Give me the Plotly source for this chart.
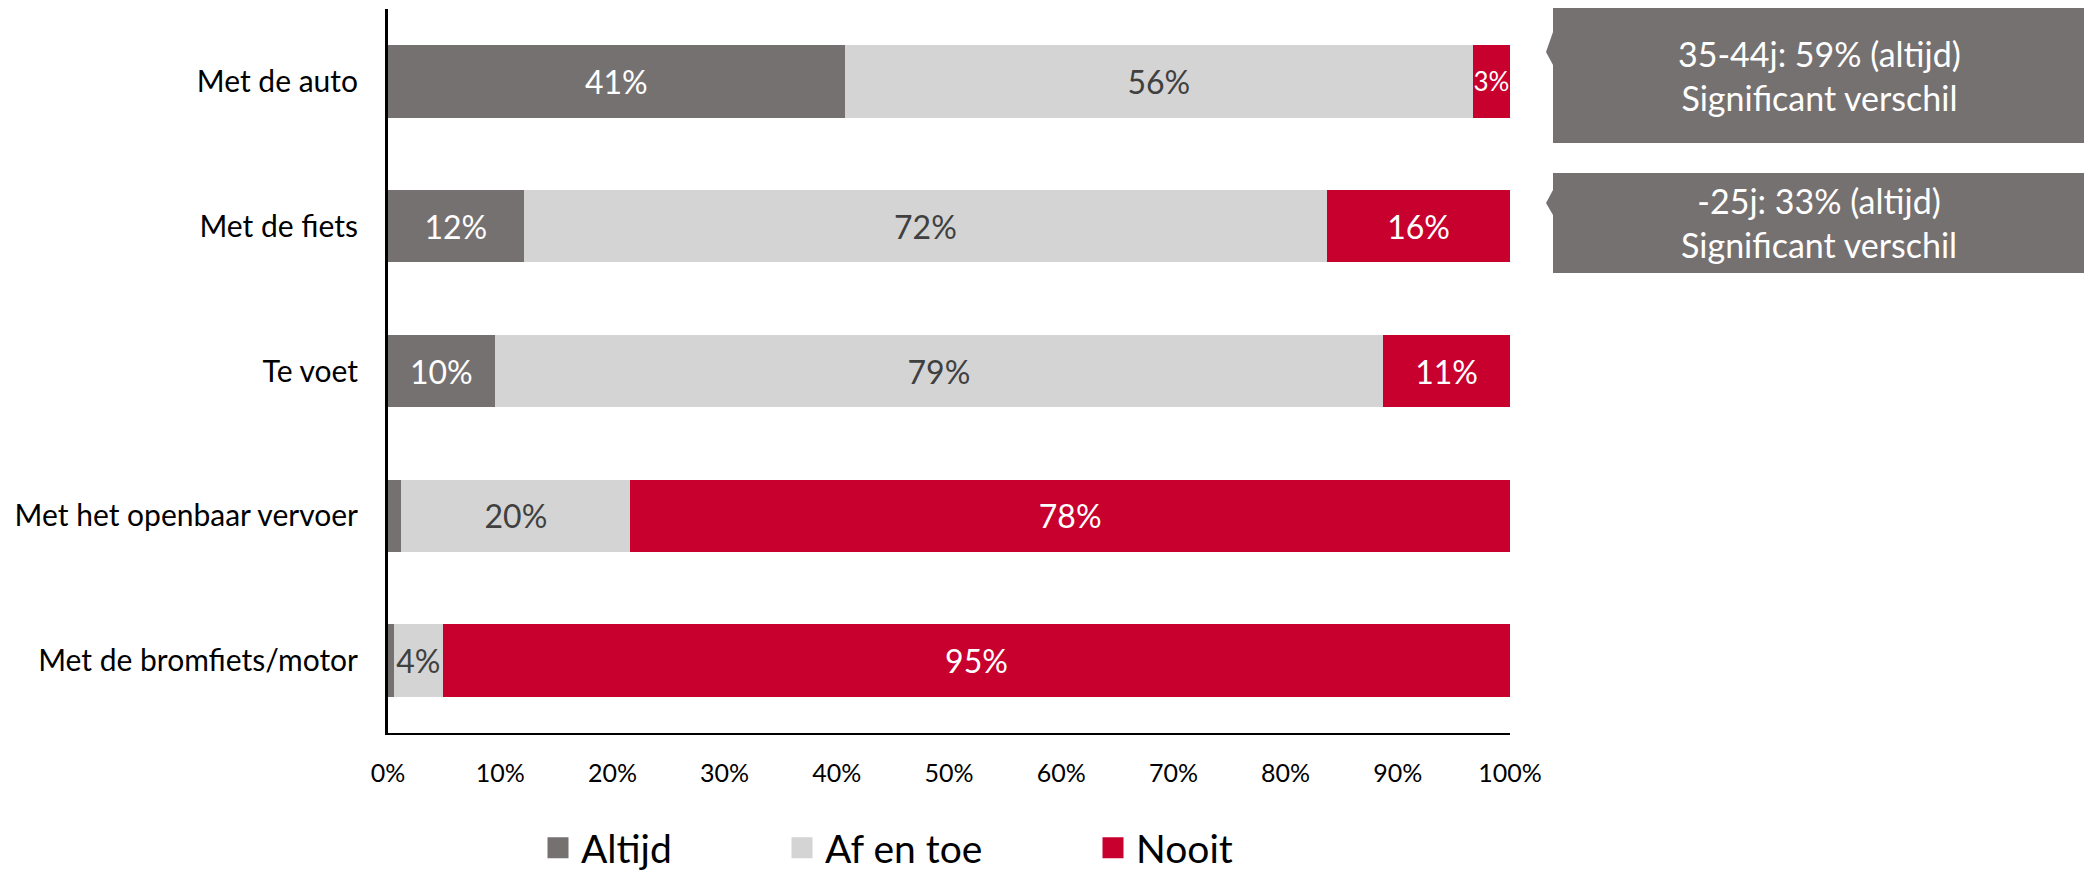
import plotly.graph_objects as go

categories = ["Met de auto", "Met de fiets", "Te voet", "Met het openbaar vervoer", "Met de bromfiets/motor"]
series_names = ["Altijd", "Af en toe", "Nooit"]
altijd = [40.7, 12.1, 9.5, 1.2, 0.5]
af_en_toe = [56.0, 71.6, 79.2, 20.4, 4.4]
nooit = [3.3, 16.3, 11.3, 78.4, 95.1]
x_ticks = [0, 10, 20, 30, 40, 50, 60, 70, 80, 90, 100]
callouts = ["35-44j: 59% (altijd)<br>Significant verschil", "-25j: 33% (altijd)<br>Significant verschil"]

colors = ["#767171", "#D4D4D4", "#C8002E"]
text_colors = ["#FFFFFF", "#404040", "#FFFFFF"]
FONT = "Lato"

OFF = 8  # page body margin
W, H = 2092 - OFF, 871 - OFF
# plot area in page pixels
L, R, T, B = 388, 1510, 9, 733


def px(xp):
    return (xp - L) / (R - L)


def py(yp):
    return (B - yp) / (B - T)


fig = go.Figure()
for name, vals, c, tc in zip(series_names, [altijd, af_en_toe, nooit], colors, text_colors):
    labels = [f"{round(v)}%" if v >= 2.5 else "" for v in vals]
    sizes = [26 if v < 4 else 32 for v in vals]
    fig.add_trace(go.Bar(
        name=name, y=categories, x=vals, orientation="h",
        marker=dict(color=c, line=dict(width=0)),
        text=labels, textposition="inside", insidetextanchor="middle", textangle=0,
        constraintext="none",
        textfont=dict(family=FONT, size=sizes, color=tc),
        hoverinfo="skip", showlegend=False,
    ))

# legend entries (one legend per series, positioned like the reference)
legend_squares = [548, 792, 1103]
legend_ids = ["legend", "legend2", "legend3"]
for name, c, lid in zip(series_names, colors, legend_ids):
    fig.add_trace(go.Scatter(
        name=name, x=[None], y=[None], mode="markers",
        marker=dict(symbol="square", size=16, color=c, line=dict(color=c, width=5)),
        legend=lid, showlegend=True, hoverinfo="skip",
    ))

legend_layout = {}
for lid, sq in zip(legend_ids, legend_squares):
    legend_layout[lid] = dict(
        orientation="h", x=px(sq - 13), xanchor="left", y=py(848), yanchor="middle",
        font=dict(family=FONT, size=39, color="#000000"), itemwidth=36,
        bgcolor="rgba(0,0,0,0)", borderwidth=0,
    )

shapes = []
annotations = []
boxes = [
    (1553, 2085, 7, 143, 32, 65, 52),
    (1553, 2085, 173, 273, 190, 215, 203),
]
for (x0, x1, y0, y1, ny0, ny1, nyt), txt in zip(boxes, callouts):
    path = (f"M {px(x0)},{py(y0)} L {px(x1)},{py(y0)} L {px(x1)},{py(y1)} L {px(x0)},{py(y1)} "
            f"L {px(x0)},{py(ny1)} L {px(1546)},{py(nyt)} L {px(x0)},{py(ny0)} Z")
    shapes.append(dict(type="path", xref="paper", yref="paper", path=path,
                       fillcolor="#767171", line=dict(width=0), layer="above"))
    annotations.append(dict(xref="paper", yref="paper", x=px((x0 + x1) / 2), y=py((y0 + y1) / 2),
                            text=txt, showarrow=False, align="center",
                            font=dict(family=FONT, size=34, color="#FFFFFF"),
                            xanchor="center", yanchor="middle"))

fig.update_layout(
    barmode="stack",
    bargap=0.5,
    width=W, height=H,
    margin=dict(l=L - OFF, r=(W + OFF) - R, t=max(T - OFF, 0), b=(H + OFF) - B, pad=0,
                autoexpand=False),
    plot_bgcolor="white", paper_bgcolor="white",
    showlegend=True,
    xaxis=dict(range=[0, 100], tickvals=x_ticks, ticktext=[f"{v}%" for v in x_ticks],
               showgrid=False, zeroline=False, showline=True, linecolor="#000000", linewidth=2,
               ticks="", ticklabelstandoff=17,
               tickfont=dict(family=FONT, size=25, color="#000000"), fixedrange=True),
    yaxis=dict(categoryorder="array", categoryarray=categories, autorange="reversed",
               showgrid=False, zeroline=False, showline=True, linecolor="#000000", linewidth=3,
               ticks="", ticklabelstandoff=21,
               tickfont=dict(family=FONT, size=30, color="#000000"), fixedrange=True),
    shapes=shapes,
    annotations=annotations,
    **legend_layout,
)

fig.write_html("out.html")
